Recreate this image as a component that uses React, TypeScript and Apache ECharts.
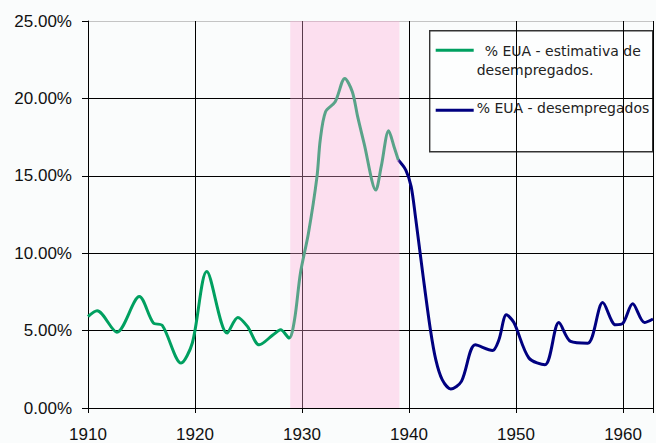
import React, { useEffect, useRef } from "react";
import * as echarts from "echarts";

const yTickLabels = ["0.00%", "5.00%", "10.00%", "15.00%", "20.00%", "25.00%"];
const xTickLabels = ["1910", "1920", "1930", "1940", "1950", "1960"];

const estimateYears = [
  1910.0, 1910.85, 1912.7, 1914.8, 1916.1, 1916.95, 1918.7, 1919.75, 1921.1,
  1923.0, 1924.0, 1924.9, 1926.0, 1927.3, 1928.0, 1928.8, 1929.3, 1929.85,
  1930.6, 1931.4, 1931.7, 1932.2, 1933.1, 1934.0, 1934.7, 1935.2, 1935.8,
  1936.9, 1937.4, 1938.1, 1938.6, 1939.0,
];
const estimateValues = [
  5.91, 6.28, 4.9, 7.2, 5.5, 5.33, 2.9, 4.2, 8.82,
  4.84, 5.85, 5.27, 4.08, 4.73, 5.05, 4.52, 5.7, 8.71,
  11.29, 14.95, 17.3, 19.14, 19.78, 21.29, 20.43, 18.82, 17.1,
  14.08, 15.59, 17.91, 16.88, 16.02,
];

const actualYears = [
  1939.0, 1939.7, 1940.2, 1940.6, 1941.3, 1942.0, 1942.5, 1943.1, 1943.9,
  1944.9, 1946.2, 1947.8, 1948.4, 1949.1, 1949.8, 1951.2, 1952.7, 1954.0,
  1955.1, 1956.7, 1958.1, 1959.3, 1960.0, 1960.9, 1962.0, 1962.8,
];
const actualValues = [
  16.02, 15.37, 14.3, 12.36, 8.6, 5.05, 3.12, 1.83, 1.23,
  1.72, 4.08, 3.72, 4.41, 6.02, 5.52, 3.23, 2.79, 5.52,
  4.3, 4.19, 6.81, 5.37, 5.48, 6.73, 5.52, 5.75,
];

const bandYears = [1928.9, 1939.1];
const legendLabels = ["% EUA - estimativa de", "desempregados.", "% EUA - desempregados"];
const seriesColors = ["#00a060", "#000080"];

export default function App() {
  const ref = useRef<HTMLDivElement>(null);
  useEffect(() => {
    if (!ref.current) return;
    const chart = echarts.init(ref.current, undefined, { renderer: "svg" });
    const zip = (xs: number[], ys: number[]) => xs.map((x, i) => [x, ys[i]]);
    chart.setOption({
      animation: false,
      backgroundColor: "#fafcfc",
      grid: { left: 88, top: 21, right: -1, bottom: 35 },
      xAxis: {
        type: "value",
        min: 1910,
        max: 1962.8,
        interval: 10,
        axisLine: { show: true, lineStyle: { color: "#000", width: 1 } },
        axisTick: { show: true, length: 5, lineStyle: { color: "#000" } },
        axisLabel: {
          margin: 18,
          fontFamily: "Liberation Sans, Arial, sans-serif",
          fontSize: 17,
          color: "#111",
          formatter: (v: number) => {
            const i = xTickLabels.indexOf(String(Math.round(v)));
            return Math.abs(v - Math.round(v)) < 1e-6 && i >= 0 ? xTickLabels[i] : "";
          },
        },
        splitLine: { show: true, lineStyle: { color: "#000", width: 1 } },
      },
      yAxis: {
        type: "value",
        min: 0,
        max: 25,
        interval: 5,
        axisLine: { show: true, lineStyle: { color: "#000", width: 1 } },
        axisTick: { show: true, length: 6, lineStyle: { color: "#000" } },
        axisLabel: {
          margin: 16,
          fontFamily: "Liberation Sans, Arial, sans-serif",
          fontSize: 17,
          color: "#111",
          formatter: (v: number) => yTickLabels[Math.round(v / 5)] ?? "",
        },
        splitLine: {
          show: true,
          lineStyle: { color: ["#000", "#000", "#000", "#000", "#000", "#c4c4c4"], width: 1 },
        },
      },
      series: [
        {
          name: "% EUA - estimativa de desempregados.",
          type: "line",
          data: zip(estimateYears, estimateValues),
          smooth: 0.3,
          symbol: "none",
          lineStyle: { color: seriesColors[0], width: 3 },
          z: 3,
        },
        {
          name: "% EUA - desempregados",
          type: "line",
          data: zip(actualYears, actualValues),
          smooth: 0.3,
          symbol: "none",
          lineStyle: { color: seriesColors[1], width: 3 },
          z: 3,
        },
        {
          name: "band",
          type: "line",
          data: [],
          z: 10,
          markArea: {
            silent: true,
            z: 10,
            itemStyle: { color: "rgba(255,170,215,0.35)" },
            data: [[{ xAxis: bandYears[0] }, { xAxis: bandYears[1] }]],
          },
        },
      ],
      graphic: [
        {
          type: "group",
          left: 429,
          top: 30,
          z: 100,
          children: [
            {
              type: "rect",
              shape: { x: 0, y: 0, width: 223, height: 121 },
              style: { fill: "#fdfefe", stroke: "#333", lineWidth: 1.4 },
            },
            {
              type: "line",
              shape: { x1: 6, y1: 19.5, x2: 44, y2: 19.5 },
              style: { stroke: seriesColors[0], lineWidth: 3 },
            },
            {
              type: "line",
              shape: { x1: 6, y1: 79.5, x2: 44, y2: 79.5 },
              style: { stroke: seriesColors[1], lineWidth: 3 },
            },
            {
              type: "text",
              x: 55,
              y: 20,
              style: {
                text: legendLabels[0],
                fontFamily: "DejaVu Sans",
                fontSize: 14,
                fill: "#222",
                verticalAlign: "middle",
              },
            },
            {
              type: "text",
              x: 47,
              y: 39,
              style: {
                text: legendLabels[1],
                fontFamily: "DejaVu Sans",
                fontSize: 14,
                fill: "#222",
                verticalAlign: "middle",
              },
            },
            {
              type: "text",
              x: 47,
              y: 77.5,
              style: {
                text: legendLabels[2],
                fontFamily: "DejaVu Sans",
                fontSize: 14,
                fill: "#222",
                verticalAlign: "middle",
              },
            },
          ],
        },
      ],
    });
    return () => chart.dispose();
  }, []);
  return (
    <div
      ref={ref}
      style={{ position: "absolute", left: 0, top: 0, width: 656, height: 443 }}
    />
  );
}
